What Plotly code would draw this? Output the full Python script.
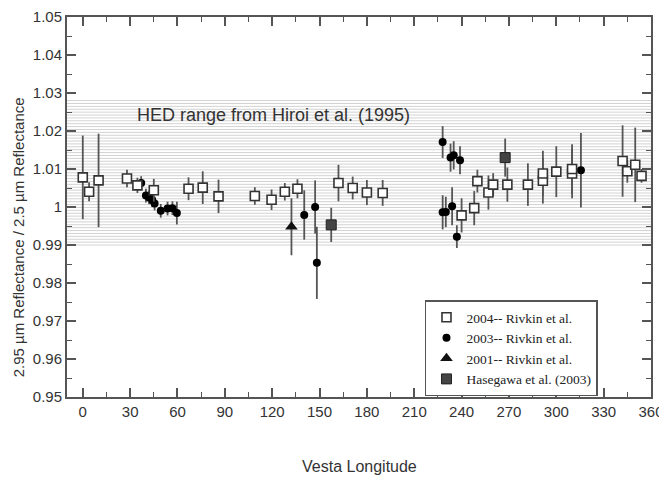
import plotly.graph_objects as go

# ---- data ----
lon_2004 = [0, 4, 10, 28, 34.6, 45, 67, 76, 86, 109, 119.6, 128, 136, 162, 171, 180, 190,
            240, 248, 250, 257, 260, 269, 282, 291.5, 291.5, 300, 310, 310, 342, 345, 350, 354]
val_2004 = [1.0078, 1.004, 1.007, 1.0075, 1.0057, 1.0044, 1.0048, 1.0051, 1.0028, 1.0029, 1.0019, 1.004, 1.0048,
            1.0063, 1.005, 1.0038, 1.0037,
            0.9978, 0.9997, 1.0068, 1.0038, 1.0059, 1.0059, 1.0059, 1.0069, 1.0088, 1.0093, 1.0088, 1.0100,
            1.0121, 1.0094, 1.0111, 1.0082]
err_2004 = [0.011, 0.0025, 0.0123, 0.0023, 0.002, 0.003, 0.003, 0.0043, 0.0044, 0.0023, 0.0027, 0.0023, 0.0025,
            0.0048, 0.003, 0.0033, 0.0034,
            0.0045, 0.0045, 0.003, 0.0045, 0.003, 0.0045, 0.0056, 0.006, 0.006, 0.0067, 0.0065, 0.0065,
            0.0094, 0.003, 0.0098, 0.0018]

lon_2003 = [37, 40, 42, 44, 45.5, 49.4, 53.7, 56.8, 59.6, 140.3, 147.2, 148.3,
            228, 228, 230, 233, 234, 235, 237, 239, 315.6]
val_2003 = [1.0063, 1.003, 1.0025, 1.0018, 1.0009, 0.999, 0.9996, 0.9997, 0.9984, 0.9979, 1.0, 0.9853,
            1.0171, 0.9986, 0.9987, 1.013, 1.0002, 1.0136, 0.9922, 1.0123, 1.0097]
err_2003 = [0.0018, 0.0018, 0.0018, 0.0018, 0.0018, 0.0018, 0.0018, 0.0018, 0.003, 0.0065, 0.007, 0.0095,
            0.0042, 0.0045, 0.004, 0.0037, 0.005, 0.0037, 0.003, 0.0037, 0.0098]

lon_2001 = [132.2]
val_2001 = [0.9948]
err_2001 = [0.0075]

lon_has = [157.4, 267.6]
val_has = [0.9953, 1.013]
err_has = [0.0045, 0.005]

hed_range = [0.990, 1.028]
hed_label = "HED range from Hiroi et al. (1995)"
x_title = "Vesta Longitude"
y_title = "2.95 µm Reflectance / 2.5 µm Reflectance"

x_ticks = list(range(0, 361, 30))
y_ticks = [0.95, 0.96, 0.97, 0.98, 0.99, 1.0, 1.01, 1.02, 1.03, 1.04, 1.05]
y_ticklabels = ["0.95", "0.96", "0.97", "0.98", "0.99", "1", "1.01", "1.02", "1.03", "1.04", "1.05"]

SANS = "Liberation Sans, Arial, Helvetica"
SERIF = "Liberation Serif, Times New Roman, serif"

# ---- figure ----
fig = go.Figure()

ERR = dict(type="data", visible=True, thickness=1.8, width=0, color="#555555")

fig.add_trace(go.Scatter(x=lon_2001, y=val_2001, mode="markers", name="2001-- Rivkin et al.",
                         legendrank=3,
                         error_y=dict(array=err_2001, **ERR),
                         marker=dict(symbol="triangle-up", size=11, color="#111111")))
fig.add_trace(go.Scatter(x=lon_has, y=val_has, mode="markers", name="Hasegawa et al. (2003)",
                         legendrank=4,
                         error_y=dict(array=err_has, **ERR),
                         marker=dict(symbol="square", size=10, color="#444444",
                                     line=dict(color="#222222", width=1))))
fig.add_trace(go.Scatter(x=lon_2003, y=val_2003, mode="markers", name="2003-- Rivkin et al.",
                         legendrank=2,
                         error_y=dict(array=err_2003, **ERR),
                         marker=dict(symbol="circle", size=8, color="#000000")))
fig.add_trace(go.Scatter(x=lon_2004, y=val_2004, mode="markers", name="2004-- Rivkin et al.",
                         legendrank=1,
                         error_y=dict(array=err_2004, **ERR),
                         marker=dict(symbol="square", size=9, color="white",
                                     line=dict(color="#333333", width=1.6))))

# HED band drawn as fine horizontal hatch lines
n_lines = 50
step = (hed_range[1] - hed_range[0]) / n_lines
for i in range(n_lines + 1):
    yv = hed_range[0] + i * step
    fig.add_shape(type="line", xref="paper", x0=0, x1=1, yref="y", y0=yv, y1=yv,
                  line=dict(color="#d2d2d2", width=1), layer="below")

fig.add_annotation(x=33, y=1.0243, text=hed_label, showarrow=False, xanchor="left",
                   font=dict(family=SANS, size=18, color="#333333"))

# axis titles as annotations for precise placement
fig.add_annotation(xref="paper", yref="paper", x=0.5, y=-0.183, text=x_title, showarrow=False,
                   xanchor="center", yanchor="middle", font=dict(family=SANS, size=16, color="#333333"))
fig.add_annotation(xref="paper", x=-0.084, yref="paper", y=0.42, text=y_title, showarrow=False,
                   textangle=-90, xanchor="center", yanchor="middle",
                   font=dict(family=SANS, size=15, color="#333333"))

axis_common = dict(showgrid=False, zeroline=False, showline=True, linecolor="#555555", linewidth=2,
                   mirror="allticks", ticks="inside", ticklen=9, tickwidth=1.5, tickcolor="#555555",
                   automargin=False, ticklabeloverflow="allow",
                   tickfont=dict(family=SANS, size=15, color="#333333"))

fig.update_xaxes(range=[-10, 360], tickvals=x_ticks, **axis_common,
                 minor=dict(ticks="inside", dtick=15, tick0=0, ticklen=5, tickwidth=1.2, tickcolor="#555555"))
fig.update_yaxes(range=[0.95, 1.05], tickvals=y_ticks, ticktext=y_ticklabels, **axis_common,
                 minor=dict(ticks="inside", dtick=0.005, tick0=0.95, ticklen=5, tickwidth=1.2, tickcolor="#555555"))

# page body has an 8px margin, so the figure is sized to fit the 667x480 window
fig.update_layout(
    width=659, height=472,
    margin=dict(l=59, r=16, t=9, b=83),
    paper_bgcolor="white", plot_bgcolor="white",
    showlegend=True,
    legend=dict(x=0.613, y=0.254, xanchor="left", yanchor="top",
                bgcolor="white", bordercolor="#555555", borderwidth=1.5,
                traceorder="normal", tracegroupgap=0,
                font=dict(family=SERIF, size=13.5, color="#222222")),
)

fig.write_html("out.html")
